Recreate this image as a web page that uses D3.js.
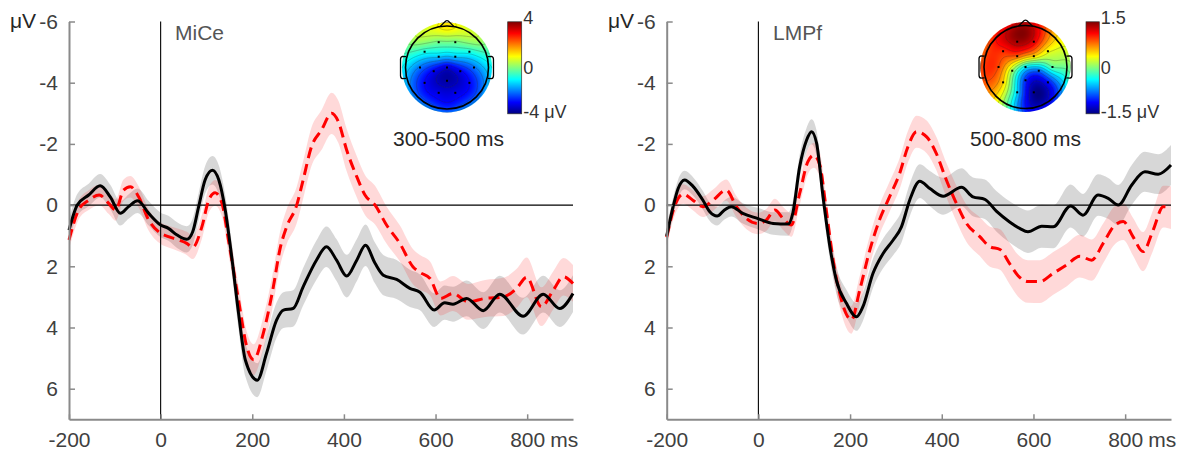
<!DOCTYPE html>
<html><head><meta charset="utf-8">
<script src="https://cdn.jsdelivr.net/npm/d3@7"></script>
<style>body{margin:0;background:#fff}svg{display:block;font-family:"Liberation Sans",Arial,sans-serif}</style>
</head><body><svg id="c" width="1185" height="453"></svg>
<script>
// ---------------- data ----------------
const timeTicks = [-200, 0, 200, 400, 600, 800];
const voltTicks = [-6, -4, -2, 0, 2, 4, 6];
const seTimes = [-200,-100,0,100,200,300,400,500,600,700,800,900];

// MiCe panel
const miceBlackT = [-200,-182,-157,-132,-110,-88,-70,-50,-26,0,17,36,57,70,83,97,113,127,141,156,170,185,211,231,253,268,289,311,340,362,384,406,428,447,468,486,515,544,566,597,620,638,668,704,740,791,835,871,900];
const miceBlackV = [0.82,0.0,-0.33,-0.63,-0.27,0.27,0.05,-0.14,0.27,0.65,0.76,0.98,1.12,0.87,0.05,-0.82,-1.14,-0.82,0.16,1.8,3.53,5.07,5.72,4.85,3.76,3.43,3.38,2.67,1.8,1.36,1.8,2.32,1.8,1.31,1.9,2.29,2.43,2.72,2.85,3.43,3.19,3.24,3.05,3.45,2.91,3.63,2.91,3.38,2.89];
const miceRedT = [-200,-179,-157,-134,-113,-98,-81,-66,-48,-26,0,17,39,57,70,90,105,119,134,148,170,188,203,224,246,260,275,297,311,329,351,373,388,406,428,446,468,493,522,551,566,588,611,638,671,708,748,777,799,831,857,879,900];
const miceRedV = [1.14,0.16,-0.16,-0.33,-0.05,0.16,-0.49,-0.6,-0.27,0.49,0.92,1.03,1.14,1.25,1.38,0.71,-0.16,-0.4,-0.05,1.14,3.1,4.63,5.05,4.19,2.67,1.47,0.71,0.0,-0.82,-1.9,-2.45,-3.0,-2.72,-1.8,-0.93,-0.33,0.0,0.65,1.25,2.02,2.2,2.4,3.05,2.89,3.16,3.05,3.0,2.72,2.36,3.32,2.78,2.34,2.56];
const miceBlackSE = [0.35,0.4,0.4,0.45,0.55,0.6,0.7,0.65,0.55,0.6,0.6,0.6];
const miceRedSE = [0.3,0.35,0.35,0.4,0.5,0.6,0.7,0.6,0.55,0.6,0.65,0.6];

// LMPf panel
const lmpfBlackT = [-200,-186,-175,-161,-143,-121,-106,-90,-74,-59,-34,-1,32,65,75,90,105,116,127,141,156,170,192,214,228,250,272,294,312,330,352,374,403,443,468,494,519,548,570,588,618,643,681,708,741,763,785,814,843,872,900];
const lmpfBlackV = [1.01,0.05,-0.54,-0.82,-0.62,-0.16,0.22,0.36,0.16,0.05,0.27,0.44,0.6,0.62,0.27,-1.25,-2.12,-2.4,-2.02,-0.27,1.36,2.45,3.21,3.65,3.32,2.23,1.58,1.14,0.71,-0.16,-0.78,-0.54,-0.29,-0.58,-0.27,-0.19,0.2,0.55,0.76,0.87,0.69,0.71,0.03,0.33,-0.33,-0.22,0.0,-0.65,-1.09,-1.01,-1.31];
const lmpfRedT = [-200,-183,-164,-143,-121,-99,-70,-48,-26,-1,17,36,54,72,90,108,121,134,148,163,181,203,221,243,264,286,308,326,345,367,388,410,432,454,483,505,527,548,566,588,614,643,672,701,727,752,778,796,817,839,861,883,900];
const lmpfRedV = [1.05,0.05,-0.36,-0.16,0.05,-0.16,-0.49,0.05,0.44,0.6,0.49,0.16,0.44,0.65,-0.38,-1.42,-1.63,-1.31,0.16,1.8,3.1,3.75,2.78,1.47,0.49,-0.27,-1.03,-1.9,-2.4,-2.23,-1.69,-0.82,-0.05,0.6,1.03,1.36,1.45,1.91,2.3,2.5,2.5,2.23,1.96,1.67,1.8,1.25,0.65,0.54,1.03,1.52,0.82,0.05,0.08];
const lmpfBlackSE = [0.3,0.3,0.35,0.4,0.45,0.5,0.6,0.65,0.7,0.7,0.65,0.65];
const lmpfRedSE = [0.3,0.35,0.35,0.4,0.45,0.5,0.55,0.65,0.7,0.7,0.6,0.7];

// Topography (normalized head coordinates, head radius = 1)
const electrodeX = [-0.2,0.2,-0.54,-0.2,0.2,0.54,-0.65,-0.32,0,0.32,0.65,-0.54,0,0.54,-0.2,0.2];
const electrodeY = [-0.61,-0.61,-0.38,-0.26,-0.26,-0.38,0,0.09,0,0.09,0,0.37,0.32,0.37,0.61,0.61];
const rimX = [0,0.764,1.08,0.764,0,-0.764,-1.08,-0.764];
const rimY = [-1.08,-0.764,0,0.764,1.08,0.764,0,-0.764];
const miceTopoElec = [-0.1,-0.1,-0.8,-1.4,-1.4,-0.8,-2.1,-3.1,-3.3,-3.1,-2.1,-3.0,-3.7,-3.0,-3.2,-3.2];
const miceTopoRim = [1.2,0.5,-1.0,-1.9,-2.2,-1.9,-1.0,0.5];
const lmpfTopoElec = [1.4,1.2,1.0,0.85,0.5,0.35,0.9,0.1,-0.4,-0.8,-0.1,0.5,-1.0,-1.1,-0.5,-1.45];
const lmpfTopoRim = [1.3,0.5,0.0,-0.9,-1.0,0.5,0.9,1.0];

const panels = [
  {label:"MiCe", bT:miceBlackT, bV:miceBlackV, rT:miceRedT, rV:miceRedV, bSE:miceBlackSE, rSE:miceRedSE,
   topoE:miceTopoElec, topoR:miceTopoRim, cmax:4, cbLabels:["4","0","-4 \u03bcV"], win:"300-500 ms", step:0.5},
  {label:"LMPf", bT:lmpfBlackT, bV:lmpfBlackV, rT:lmpfRedT, rV:lmpfRedV, bSE:lmpfBlackSE, rSE:lmpfRedSE,
   topoE:lmpfTopoElec, topoR:lmpfTopoRim, cmax:1.5, cbLabels:["1.5","0","-1.5 \u03bcV"], win:"500-800 ms", step:0.2}
];

// ---------------- layout ----------------
const layout = [
  {x0:69, x1:573, cx:447, cy:67.5, cbx:507.7, cbw:14, winX:393, labX:175, muX:10},
  {x0:666.7, x1:1171, cx:1025.5, cy:67, cbx:1086, cbw:13.3, winX:970, labX:773, muX:608}
];
const yTop = 21.5, yBot = 419.3;
const FONT = '"Liberation Sans", Arial, sans-serif';

const svg = d3.select("#c");
svg.append("rect").attr("width",1185).attr("height",453).attr("fill","#fff");
const defs = svg.append("defs");

function jet(t){
  t = Math.max(0, Math.min(1, t));
  const c = v => Math.max(0, Math.min(1, v));
  return [c(1.5-Math.abs(4*t-3))*255, c(1.5-Math.abs(4*t-2))*255, c(1.5-Math.abs(4*t-1))*255];
}
function solve(A, b){
  const n = b.length;
  for (let i=0;i<n;i++){
    let p=i; for (let k=i+1;k<n;k++) if (Math.abs(A[k][i])>Math.abs(A[p][i])) p=k;
    [A[i],A[p]]=[A[p],A[i]]; [b[i],b[p]]=[b[p],b[i]];
    for (let k=i+1;k<n;k++){ const f=A[k][i]/A[i][i]; for (let j=i;j<n;j++) A[k][j]-=f*A[i][j]; b[k]-=f*b[i]; }
  }
  const x=new Array(n).fill(0);
  for (let i=n-1;i>=0;i--){ let s=b[i]; for (let j=i+1;j<n;j++) s-=A[i][j]*x[j]; x[i]=s/A[i][i]; }
  return x;
}
function biharmonic(px, py, vals){
  const n = px.length;
  const g = r => r < 1e-9 ? 0 : r*r*(Math.log(r)-1);
  const A = px.map((_,i)=>px.map((_,j)=>g(Math.hypot(px[i]-px[j], py[i]-py[j]))));
  const w = solve(A, vals.slice());
  return (x,y)=>{ let s=0; for (let j=0;j<n;j++) s+=w[j]*g(Math.hypot(x-px[j], y-py[j])); return s; };
}

panels.forEach((p, pi) => {
  const L = layout[pi];
  const x = d3.scaleLinear().domain([-200,900]).range([L.x0, L.x1]);
  const y = d3.scaleLinear().domain([-6,7]).range([yTop, yBot]);
  const g = svg.append("g");

  const seB = d3.scaleLinear().domain(seTimes).range(p.bSE);
  const seR = d3.scaleLinear().domain(seTimes).range(p.rSE);
  const bData = p.bT.map((t,i)=>({t, v:p.bV[i], se:seB(t)}));
  const rData = p.rT.map((t,i)=>({t, v:p.rV[i], se:seR(t)}));
  const area = d3.area().x(d=>x(d.t)).y0(d=>y(d.v-d.se)).y1(d=>y(d.v+d.se)).curve(d3.curveMonotoneX);
  const line = d3.line().x(d=>x(d.t)).y(d=>y(d.v)).curve(d3.curveMonotoneX);

  g.append("path").attr("d", area(bData)).attr("fill","#8c8c8c").attr("fill-opacity",0.35);
  g.append("path").attr("d", area(rData)).attr("fill","#ff0000").attr("fill-opacity",0.15);

  g.append("line").attr("x1",x(-200)).attr("x2",x(900)).attr("y1",y(0)).attr("y2",y(0)).attr("stroke","#000").attr("stroke-width",1.1);
  g.append("line").attr("x1",x(0)).attr("x2",x(0)).attr("y1",y(-6)).attr("y2",y(7)).attr("stroke","#000").attr("stroke-width",1.1);

  g.append("path").attr("d", line(rData)).attr("fill","none").attr("stroke","#ff0000").attr("stroke-width",3).attr("stroke-dasharray","11,6");
  g.append("path").attr("d", line(bData)).attr("fill","none").attr("stroke","#000").attr("stroke-width",3);

  // axes
  const ya = g.append("g").attr("transform",`translate(${L.x0},0)`)
    .call(d3.axisLeft(y).tickValues(voltTicks).tickSizeInner(-6).tickSizeOuter(0).tickPadding(11).tickFormat(d=>String(d)));
  const xa = g.append("g").attr("transform",`translate(0,${yBot})`)
    .call(d3.axisBottom(x).tickValues(timeTicks).tickSizeInner(-5).tickSizeOuter(0).tickPadding(13).tickFormat(d=>String(d)));
  [ya, xa].forEach(a=>{
    a.attr("font-family", FONT).attr("font-size", 21);
    a.select(".domain").attr("stroke","#8a8a8a").attr("stroke-width",2);
    a.selectAll(".tick line").attr("stroke","#8a8a8a").attr("stroke-width",1.5);
    a.selectAll(".tick text").attr("fill","#404040");
  });
  g.append("text").attr("x", x(800)+23).attr("y", yBot+13).attr("dy","0.71em")
    .attr("font-size",21).attr("font-family",FONT).attr("fill","#404040").text("ms");
  g.append("text").attr("x", L.muX).attr("y", y(-6)).attr("dy","0.32em")
    .attr("font-size",21).attr("font-family",FONT).attr("fill","#262626").text("\u03bcV");
  g.append("text").attr("x", L.labX).attr("y", 40)
    .attr("font-size",21).attr("font-family",FONT).attr("fill","#555").text(p.label);

  // ---------------- topography ----------------
  const r = 41.5, cx = L.cx, cy = L.cy, ext = 1.1, diskR = 1.085;
  const f = biharmonic(electrodeX.concat(rimX), electrodeY.concat(rimY), p.topoE.concat(p.topoR));
  const N = 220;
  const cnv = document.createElement("canvas"); cnv.width = N; cnv.height = N;
  const ctx = cnv.getContext("2d"); const img = ctx.createImageData(N, N);
  for (let j=0;j<N;j++) for (let i=0;i<N;i++){
    const nx = -ext + 2*ext*(i+0.5)/N, ny = -ext + 2*ext*(j+0.5)/N;
    const v = f(nx, ny);
    const c = jet((v + p.cmax)/(2*p.cmax));
    const k = 4*(j*N+i);
    img.data[k]=c[0]; img.data[k+1]=c[1]; img.data[k+2]=c[2]; img.data[k+3]=255;
  }
  ctx.putImageData(img,0,0);
  const clipId = "clip"+pi;
  defs.append("clipPath").attr("id",clipId).append("circle").attr("cx",cx).attr("cy",cy).attr("r",diskR*r);
  const tg = svg.append("g");
  tg.append("image").attr("href", cnv.toDataURL()).attr("x",cx-ext*r).attr("y",cy-ext*r)
    .attr("width",2*ext*r).attr("height",2*ext*r).attr("preserveAspectRatio","none").attr("clip-path",`url(#${clipId})`);
  // contours
  const M = 120, vals = new Array(M*M);
  for (let j=0;j<M;j++) for (let i=0;i<M;i++) vals[j*M+i] = f(-ext+2*ext*(i+0.5)/M, -ext+2*ext*(j+0.5)/M);
  const levels = d3.range(-p.cmax + p.step, p.cmax, p.step);
  const conts = d3.contours().size([M,M]).thresholds(levels)(vals);
  const proj = d3.geoTransform({point(px,py){ this.stream.point(cx + (-ext+2*ext*px/M)*r, cy + (-ext+2*ext*py/M)*r); }});
  const gp = d3.geoPath(proj);
  tg.append("g").attr("clip-path",`url(#${clipId})`).selectAll("path").data(conts).join("path")
    .attr("d", gp).attr("fill","none").attr("stroke","#333").attr("stroke-opacity",0.45).attr("stroke-width",0.6);
  // head
  tg.append("circle").attr("cx",cx).attr("cy",cy).attr("r",r).attr("fill","none").attr("stroke","#000").attr("stroke-width",1.6);
  tg.append("path").attr("d",`M${cx-0.17*r},${cy-0.985*r} L${cx-0.03*r},${cy-1.12*r} Q${cx},${cy-1.14*r} ${cx+0.03*r},${cy-1.12*r} L${cx+0.17*r},${cy-0.985*r}`)
    .attr("fill","none").attr("stroke","#000").attr("stroke-width",1.3);
  [-1,1].forEach(s=>{
    const xo = cx + s*0.985*r, xe = cx + s*1.12*r;
    tg.append("path").attr("d",`M${xo},${cy-0.26*r} L${xe-s*2},${cy-0.27*r} Q${xe},${cy-0.26*r} ${xe},${cy-0.2*r} L${xe},${cy+0.2*r} Q${xe},${cy+0.26*r} ${xe-s*2},${cy+0.27*r} L${xo},${cy+0.26*r}`)
      .attr("fill","none").attr("stroke","#000").attr("stroke-width",1.3);
  });
  tg.selectAll("rect.el").data(electrodeX).join("rect").attr("class","el")
    .attr("x",(d,i)=>cx+d*r-1).attr("y",(d,i)=>cy+electrodeY[i]*r-1).attr("width",2).attr("height",2).attr("fill","#000");

  // colorbar
  const gradId = "jet"+pi;
  const grad = defs.append("linearGradient").attr("id",gradId).attr("x1",0).attr("y1",1).attr("x2",0).attr("y2",0);
  d3.range(0,1.0001,0.0625).forEach(t=>{ const c=jet(t); grad.append("stop").attr("offset",t).attr("stop-color",`rgb(${c.map(Math.round).join(",")})`); });
  const cbTop = 21.8, cbBot = 113.8;
  tg.append("rect").attr("x",L.cbx).attr("y",cbTop).attr("width",L.cbw).attr("height",cbBot-cbTop)
    .attr("fill",`url(#${gradId})`).attr("stroke","#333").attr("stroke-width",0.7);
  const cbY = [cbTop-4.5, (cbTop+cbBot)/2-0.5, cbBot-2.5];
  p.cbLabels.forEach((t,i)=>{
    tg.append("text").attr("x",L.cbx+L.cbw+1.5).attr("y",cbY[i]).attr("dy","0.35em")
      .attr("font-size",18).attr("font-family",FONT).attr("fill","#333").text(t);
  });
  tg.append("text").attr("x",L.winX).attr("y",146).attr("font-size",21).attr("font-family",FONT).attr("fill","#262626").text(p.win);
});
</script></body></html>
